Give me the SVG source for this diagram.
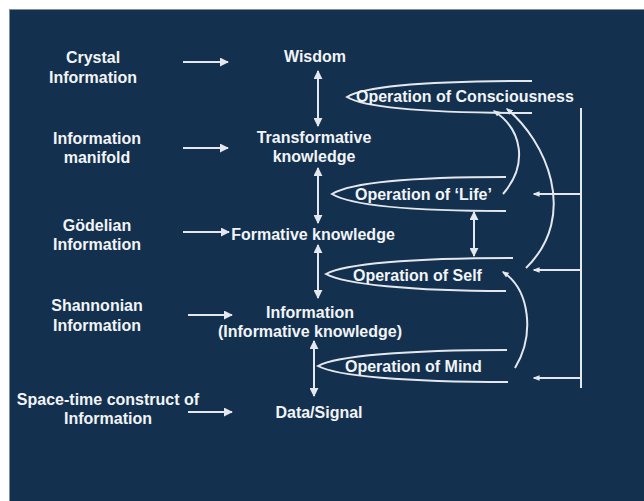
<svg xmlns="http://www.w3.org/2000/svg" width="644" height="501" viewBox="0 0 644 501">
<defs>
<style>
text{font-family:"Liberation Sans",Arial,sans-serif;font-weight:bold;font-size:16px;fill:#f2f4f6}
.c{text-anchor:middle}
.ln{stroke:#e4e8ec;stroke-width:2;fill:none}
.lens{stroke:#e4e8ec;stroke-width:2;fill:none}
</style>
<marker id="ah" viewBox="0 0 10 10" refX="9" refY="5" markerWidth="4.5" markerHeight="4.5" orient="auto-start-reverse" markerUnits="strokeWidth">
<path d="M0,0 L10,5 L0,10 z" fill="#e4e8ec"/>
</marker>
<marker id="sh" viewBox="0 0 10 10" refX="8" refY="5" markerWidth="3.5" markerHeight="3.5" orient="auto-start-reverse" markerUnits="strokeWidth">
<path d="M0,1 L10,5 L0,9 z" fill="#e4e8ec"/>
</marker>
</defs>
<rect x="0" y="0" width="644" height="501" fill="#ffffff"/>
<rect x="9.5" y="9.5" width="640" height="500" fill="#13304f" stroke="#7d8ea3" stroke-width="1"/>

<g id="left-nodes">
<g id="crystal"><text class="c" x="93" y="63">Crystal</text><text class="c" x="93" y="83">Information</text></g>
<g id="manifold"><text class="c" x="97" y="144">Information</text><text class="c" x="97" y="163">manifold</text></g>
<g id="godelian"><text class="c" x="97" y="231">Gödelian</text><text class="c" x="97" y="250">Information</text></g>
<g id="shannonian"><text class="c" x="97" y="311">Shannonian</text><text class="c" x="97" y="331">Information</text></g>
<g id="spacetime"><text class="c" x="108" y="405">Space-time construct of</text><text class="c" x="108" y="424">Information</text></g>
</g>

<g id="mid-nodes">
<g id="wisdom"><text class="c" x="315" y="62">Wisdom</text></g>
<g id="transformative"><text class="c" x="314" y="143">Transformative</text><text class="c" x="314" y="162">knowledge</text></g>
<g id="formative"><text class="c" x="313" y="240">Formative knowledge</text></g>
<g id="information"><text class="c" x="310" y="318">Information</text><text class="c" x="310" y="337">(Informative knowledge)</text></g>
<g id="data"><text class="c" x="319" y="418">Data/Signal</text></g>
</g>

<g id="op-consciousness">
<path class="lens" d="M532,81 C430,81 365,86 347,97 C365,108 430,113 532,113"/>
<text x="356" y="102">Operation of Consciousness</text>
</g>
<g id="op-life">
<path class="lens" d="M506,177 C410,177 350,183 332,194 C350,205 410,211 506,211"/>
<text x="355" y="200">Operation of ‘Life’</text>
</g>
<g id="op-self">
<path class="lens" d="M513,258 C410,258 344,264 326,274 C344,284 410,291 506,291"/>
<text x="353" y="281">Operation of Self</text>
</g>
<g id="op-mind">
<path class="lens" d="M507,350 C405,350 336,356 318,366 C336,376 405,382 508,382"/>
<text x="345" y="372">Operation of Mind</text>
</g>

<g id="connectors">
<line class="ln" x1="183" y1="62" x2="228" y2="62" marker-end="url(#ah)"/>
<line class="ln" x1="183" y1="148" x2="228" y2="148" marker-end="url(#ah)"/>
<line class="ln" x1="183" y1="232" x2="229" y2="232" marker-end="url(#ah)"/>
<line class="ln" x1="188" y1="315" x2="232" y2="315" marker-end="url(#ah)"/>
<line class="ln" x1="188" y1="412" x2="232" y2="412" marker-end="url(#ah)"/>

<line class="ln" x1="318" y1="71" x2="318" y2="126" marker-start="url(#ah)" marker-end="url(#ah)"/>
<line class="ln" x1="318" y1="168" x2="318" y2="223" marker-start="url(#ah)" marker-end="url(#ah)"/>
<line class="ln" x1="318" y1="245" x2="318" y2="298" marker-start="url(#ah)" marker-end="url(#ah)"/>
<line class="ln" x1="314" y1="341" x2="314" y2="396" marker-start="url(#ah)" marker-end="url(#ah)"/>
<line class="ln" x1="474" y1="212" x2="474" y2="256" marker-start="url(#ah)" marker-end="url(#ah)"/>

<line class="ln" x1="581" y1="108" x2="581" y2="388"/>
<line class="ln" x1="581" y1="194" x2="534" y2="194" marker-end="url(#sh)"/>
<line class="ln" x1="581" y1="270" x2="534" y2="270" marker-end="url(#sh)"/>
<line class="ln" x1="581" y1="378" x2="534" y2="378" marker-end="url(#sh)"/>

<path class="ln" d="M503,194 C528,165 523,130 494,111" marker-end="url(#sh)"/>
<path class="ln" d="M526,268 C580,215 545,140 507,109" marker-end="url(#sh)"/>
<path class="ln" d="M515,368 C535,335 530,290 503,272" marker-end="url(#sh)"/>
</g>
</svg>
